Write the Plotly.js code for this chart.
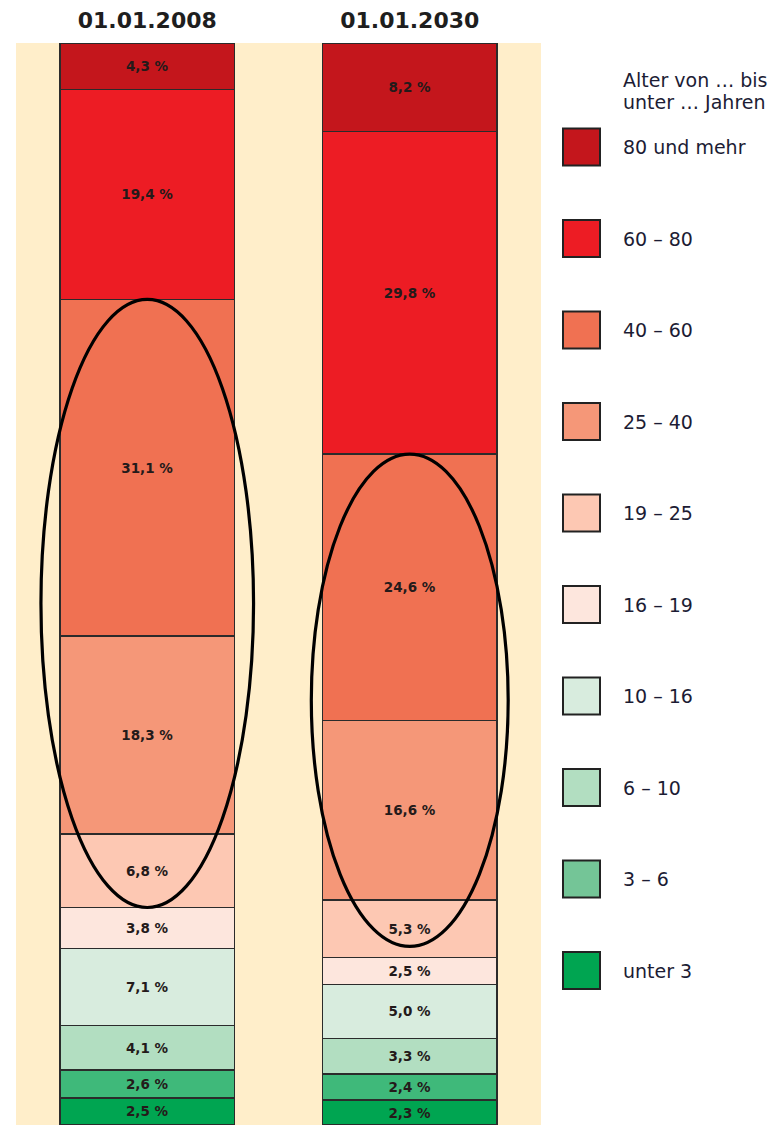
<!DOCTYPE html>
<html>
<head>
<meta charset="utf-8">
<script src="https://cdn.plot.ly/plotly-3.0.1.min.js"></script>
<style>html,body{margin:0;padding:0;background:#fff;}</style>
</head>
<body>
<div id="chart" style="width:773px;height:1125px;"></div>
<script>
// ---- data ----
const dates = ["01.01.2008", "01.01.2030"];
// age groups from bottom to top of the stack
const ageGroups = ["unter 3", "3 – 6", "6 – 10", "10 – 16", "16 – 19", "19 – 25", "25 – 40", "40 – 60", "60 – 80", "80 und mehr"];
const share2008 = [2.5, 2.6, 4.1, 7.1, 3.8, 6.8, 18.3, 31.1, 19.4, 4.3];
const share2030 = [2.3, 2.4, 3.3, 5.0, 2.5, 5.3, 16.6, 24.6, 29.8, 8.2];
const barColors = ["#00A551", "#3FB97A", "#B2DEC1", "#D8ECDE", "#FDE6DD", "#FDC8B3", "#F59778", "#F07152", "#ED1C24", "#C4161C"];
const legendColors = ["#00A551", "#74C597", "#B2DEC1", "#D8ECDE", "#FDE6DD", "#FDC8B3", "#F59778", "#F07152", "#ED1C24", "#C4161C"];
const legendTitle = ["Alter von … bis", "unter … Jahren"];
// highlighted range (ellipses): from the top of "40 – 60" down to this share level
const ellipseBottom = [20.1, 16.5];
const ellipseHalfWidth = [0.405, 0.375];

function fmt(v) { return v.toFixed(1).replace('.', ',') + ' %'; }

const series = [share2008, share2030];
const traces = ageGroups.map((g, i) => {
  const vals = series.map(s => s[i]);
  return {
    type: 'bar',
    name: g,
    x: [0, 1],
    y: vals,
    width: 0.665,
    text: vals.map(fmt),
    textposition: 'inside',
    insidetextanchor: 'middle',
    textangle: 0,
    constraintext: 'none',
    textfont: {family: 'DejaVu Sans', size: 13.5, color: '#241a1a', weight: 'bold'},
    marker: {color: barColors[i], line: {color: '#2b2b2b', width: 1.5}},
    showlegend: false,
    hoverinfo: 'skip'
  };
});

// plot area in pixels
const W = 773, H = 1125;
const mL = 16, mR = 232, mT = 43, mB = 0;
const pw = W - mL - mR, ph = H - mT - mB;
const px2x = p => (p - mL) / pw;
const px2y = p => (H - mB - p) / ph;

const shapes = [];
const annotations = [];

// ellipses around 25–60 groups
series.forEach((s, k) => {
  const idx40 = ageGroups.indexOf("40 – 60");
  let top = 0;
  for (let i = 0; i <= idx40; i++) top += s[i];
  shapes.push({
    type: 'circle', xref: 'x', yref: 'y', layer: 'above',
    x0: k - ellipseHalfWidth[k], x1: k + ellipseHalfWidth[k],
    y0: ellipseBottom[k], y1: top,
    line: {color: '#000', width: 3.2}
  });
});

// manual legend (top entry = oldest group)
const legX0 = 563, legSize = 37, legTextX = 621, legFirstY = 147, legStep = 91.5;
for (let j = 0; j < ageGroups.length; j++) {
  const i = ageGroups.length - 1 - j;
  const cy = legFirstY + j * legStep;
  shapes.push({
    type: 'rect', xref: 'paper', yref: 'paper',
    x0: px2x(legX0), x1: px2x(legX0 + legSize),
    y0: px2y(cy + legSize / 2), y1: px2y(cy - legSize / 2),
    fillcolor: legendColors[i], line: {color: '#222', width: 2}
  });
  annotations.push({
    xref: 'paper', yref: 'paper', x: px2x(legTextX), y: px2y(cy),
    xanchor: 'left', yanchor: 'middle', showarrow: false,
    text: ageGroups[i],
    font: {family: 'DejaVu Sans', size: 19, color: '#1c1c34'}
  });
}
legendTitle.forEach((t, k) => {
  annotations.push({
    xref: 'paper', yref: 'paper', x: px2x(legTextX), y: px2y(80 + k * 22),
    xanchor: 'left', yanchor: 'middle', showarrow: false,
    text: t,
    font: {family: 'DejaVu Sans', size: 19, color: '#1c1c34'}
  });
});

const layout = {
  width: W, height: H,
  margin: {l: mL, r: mR, t: mT, b: mB, pad: 0},
  paper_bgcolor: '#ffffff',
  plot_bgcolor: '#FFEECA',
  barmode: 'stack',
  showlegend: false,
  xaxis: {
    side: 'top', range: [-0.5, 1.5],
    tickmode: 'array', tickvals: [0, 1], ticktext: dates,
    tickfont: {family: 'DejaVu Sans', size: 22, color: '#1e1e1e', weight: 'bold'},
    showgrid: false, zeroline: false, showline: false, ticks: '',
    ticklabelstandoff: 10, fixedrange: true
  },
  yaxis: {
    range: [0, 100], showgrid: false, zeroline: false, showline: false,
    showticklabels: false, ticks: '', fixedrange: true
  },
  shapes: shapes,
  annotations: annotations,
  hovermode: false
};

Plotly.newPlot('chart', traces, layout, {displayModeBar: false, staticPlot: true});
</script>
</body>
</html>
